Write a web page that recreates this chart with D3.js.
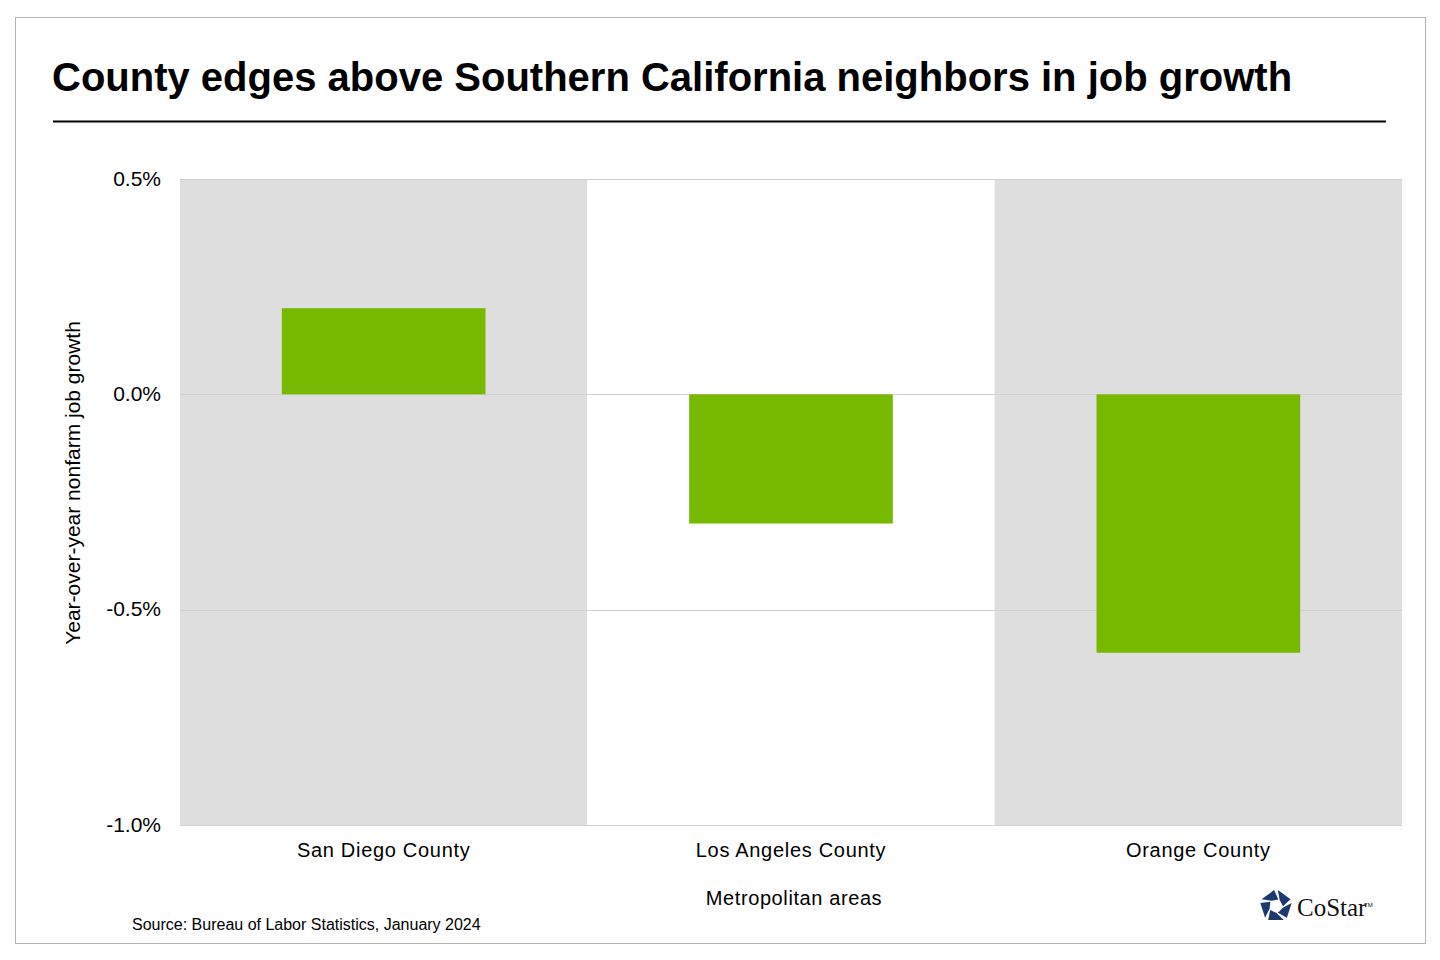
<!DOCTYPE html>
<html>
<head>
<meta charset="utf-8">
<script src="https://cdn.jsdelivr.net/npm/d3@7"></script>
<style>
  html, body { margin: 0; padding: 0; background: #fff; }
  body { width: 1440px; height: 960px; overflow: hidden; font-family: "Liberation Sans", Arial, sans-serif; }
  .axis text { font-family: "Liberation Sans", Arial, sans-serif; fill: #000; }
  .axis path, .axis line { display: none; }
</style>
</head>
<body>
<div id="chart"></div>
<script>
const categories = ["San Diego County", "Los Angeles County", "Orange County"];
const growth = [0.2, -0.3, -0.6];            // year-over-year nonfarm job growth, %
const yTicks = [0.5, 0.0, -0.5, -1.0];
const shaded = [true, false, true];

const title = "County edges above Southern California neighbors in job growth";
const yTitle = "Year-over-year nonfarm job growth";
const xTitle = "Metropolitan areas";
const source = "Source: Bureau of Labor Statistics, January 2024";

const W = 1440, H = 960;
const margin = { top: 179, right: 38, bottom: 135, left: 180 };
const width = W - margin.left - margin.right;
const height = H - margin.top - margin.bottom;

const root = d3.select("#chart").append("svg")
  .attr("width", W)
  .attr("height", H);

// outer frame
root.append("rect")
  .attr("x", 15.5).attr("y", 17.5)
  .attr("width", 1410).attr("height", 926)
  .attr("fill", "#fff")
  .attr("stroke", "#b4b4b4")
  .attr("stroke-width", 1);

root.append("text")
  .attr("x", 52)
  .attr("y", 91)
  .attr("font-size", "40px")
  .attr("font-weight", "bold")
  .attr("fill", "#000")
  .text(title);

root.append("line")
  .attr("x1", 53).attr("x2", 1386)
  .attr("y1", 121.5).attr("y2", 121.5)
  .attr("stroke", "#000")
  .attr("stroke-width", 2);

const svg = root.append("g")
  .attr("transform", `translate(${margin.left},${margin.top})`);

const x = d3.scaleBand()
  .domain(categories)
  .range([0, width])
  .padding(0);

const y = d3.scaleLinear()
  .domain([d3.min(yTicks), d3.max(yTicks)])
  .range([height, 0]);

// alternating background bands
svg.append("g")
  .selectAll("rect")
  .data(categories)
  .enter()
  .append("rect")
  .attr("x", d => x(d))
  .attr("y", 0)
  .attr("width", x.bandwidth())
  .attr("height", height)
  .attr("fill", (d, i) => shaded[i] ? "#dedede" : "#fff");

// gridlines
svg.append("g")
  .selectAll("line")
  .data(yTicks)
  .enter()
  .append("line")
  .attr("x1", 0).attr("x2", width)
  .attr("y1", d => Math.round(y(d)) + 0.5)
  .attr("y2", d => Math.round(y(d)) + 0.5)
  .attr("stroke", "#d0d0d0")
  .attr("stroke-width", 1);

// bars
const barW = x.bandwidth() * 0.5;
svg.append("g")
  .selectAll("rect")
  .data(categories.map((c, i) => ({ c, v: growth[i] })))
  .enter()
  .append("rect")
  .attr("x", d => x(d.c) + (x.bandwidth() - barW) / 2)
  .attr("y", d => y(Math.max(0, d.v)))
  .attr("width", barW)
  .attr("height", d => Math.abs(y(d.v) - y(0)))
  .attr("fill", "#76b900");

// y axis
svg.append("g")
  .attr("class", "axis")
  .call(d3.axisLeft(y)
    .tickValues(yTicks)
    .tickSize(0)
    .tickPadding(19)
    .tickFormat(d => d.toFixed(1) + "%"))
  .selectAll("text")
  .attr("font-size", "21px")
  .attr("dy", "0.3em");

// x axis
svg.append("g")
  .attr("class", "axis")
  .attr("transform", `translate(0,${height})`)
  .call(d3.axisBottom(x).tickSize(0).tickPadding(18))
  .selectAll("text")
  .attr("font-size", "20px")
  .attr("letter-spacing", "0.7px");

svg.append("text")
  .attr("x", width / 2 + 3)
  .attr("y", height + 80)
  .attr("text-anchor", "middle")
  .attr("font-size", "20px")
  .attr("letter-spacing", "0.6px")
  .attr("fill", "#000")
  .text(xTitle);

svg.append("text")
  .attr("transform", `translate(${80 - margin.left},${483 - margin.top}) rotate(-90)`)
  .attr("text-anchor", "middle")
  .attr("font-size", "21px")
  .attr("fill", "#000")
  .text(yTitle);

root.append("text")
  .attr("x", 132)
  .attr("y", 930)
  .attr("font-size", "16px")
  .attr("fill", "#000")
  .text(source);

// CoStar logo
const logo = root.append("g").attr("transform", "translate(1276,906)");
const rOut = 16, rIn = 7;
for (let i = 0; i < 5; i++) {
  const a0 = (-90 + i * 72) * Math.PI / 180;
  const a1 = a0 + 72 * Math.PI / 180;
  const pts = [
    [rOut * Math.cos(a0 + 0.12), rOut * Math.sin(a0 + 0.12)],
    [rOut * Math.cos(a1 - 0.12), rOut * Math.sin(a1 - 0.12)],
    [rIn * Math.cos(a1 + 0.35), rIn * Math.sin(a1 + 0.35)],
    [rIn * Math.cos(a0 + 0.55), rIn * Math.sin(a0 + 0.55)]
  ];
  logo.append("path")
    .attr("d", d3.line()(pts) + "Z")
    .attr("fill", "#1c3a70");
}
root.append("text")
  .attr("x", 1297)
  .attr("y", 916)
  .attr("font-family", "'Liberation Serif', 'DejaVu Serif', serif")
  .attr("font-size", "25px")
  .attr("fill", "#111")
  .text("CoStar");
root.append("text")
  .attr("x", 1364)
  .attr("y", 907)
  .attr("font-size", "6px")
  .attr("fill", "#111")
  .text("TM");
</script>
</body>
</html>
